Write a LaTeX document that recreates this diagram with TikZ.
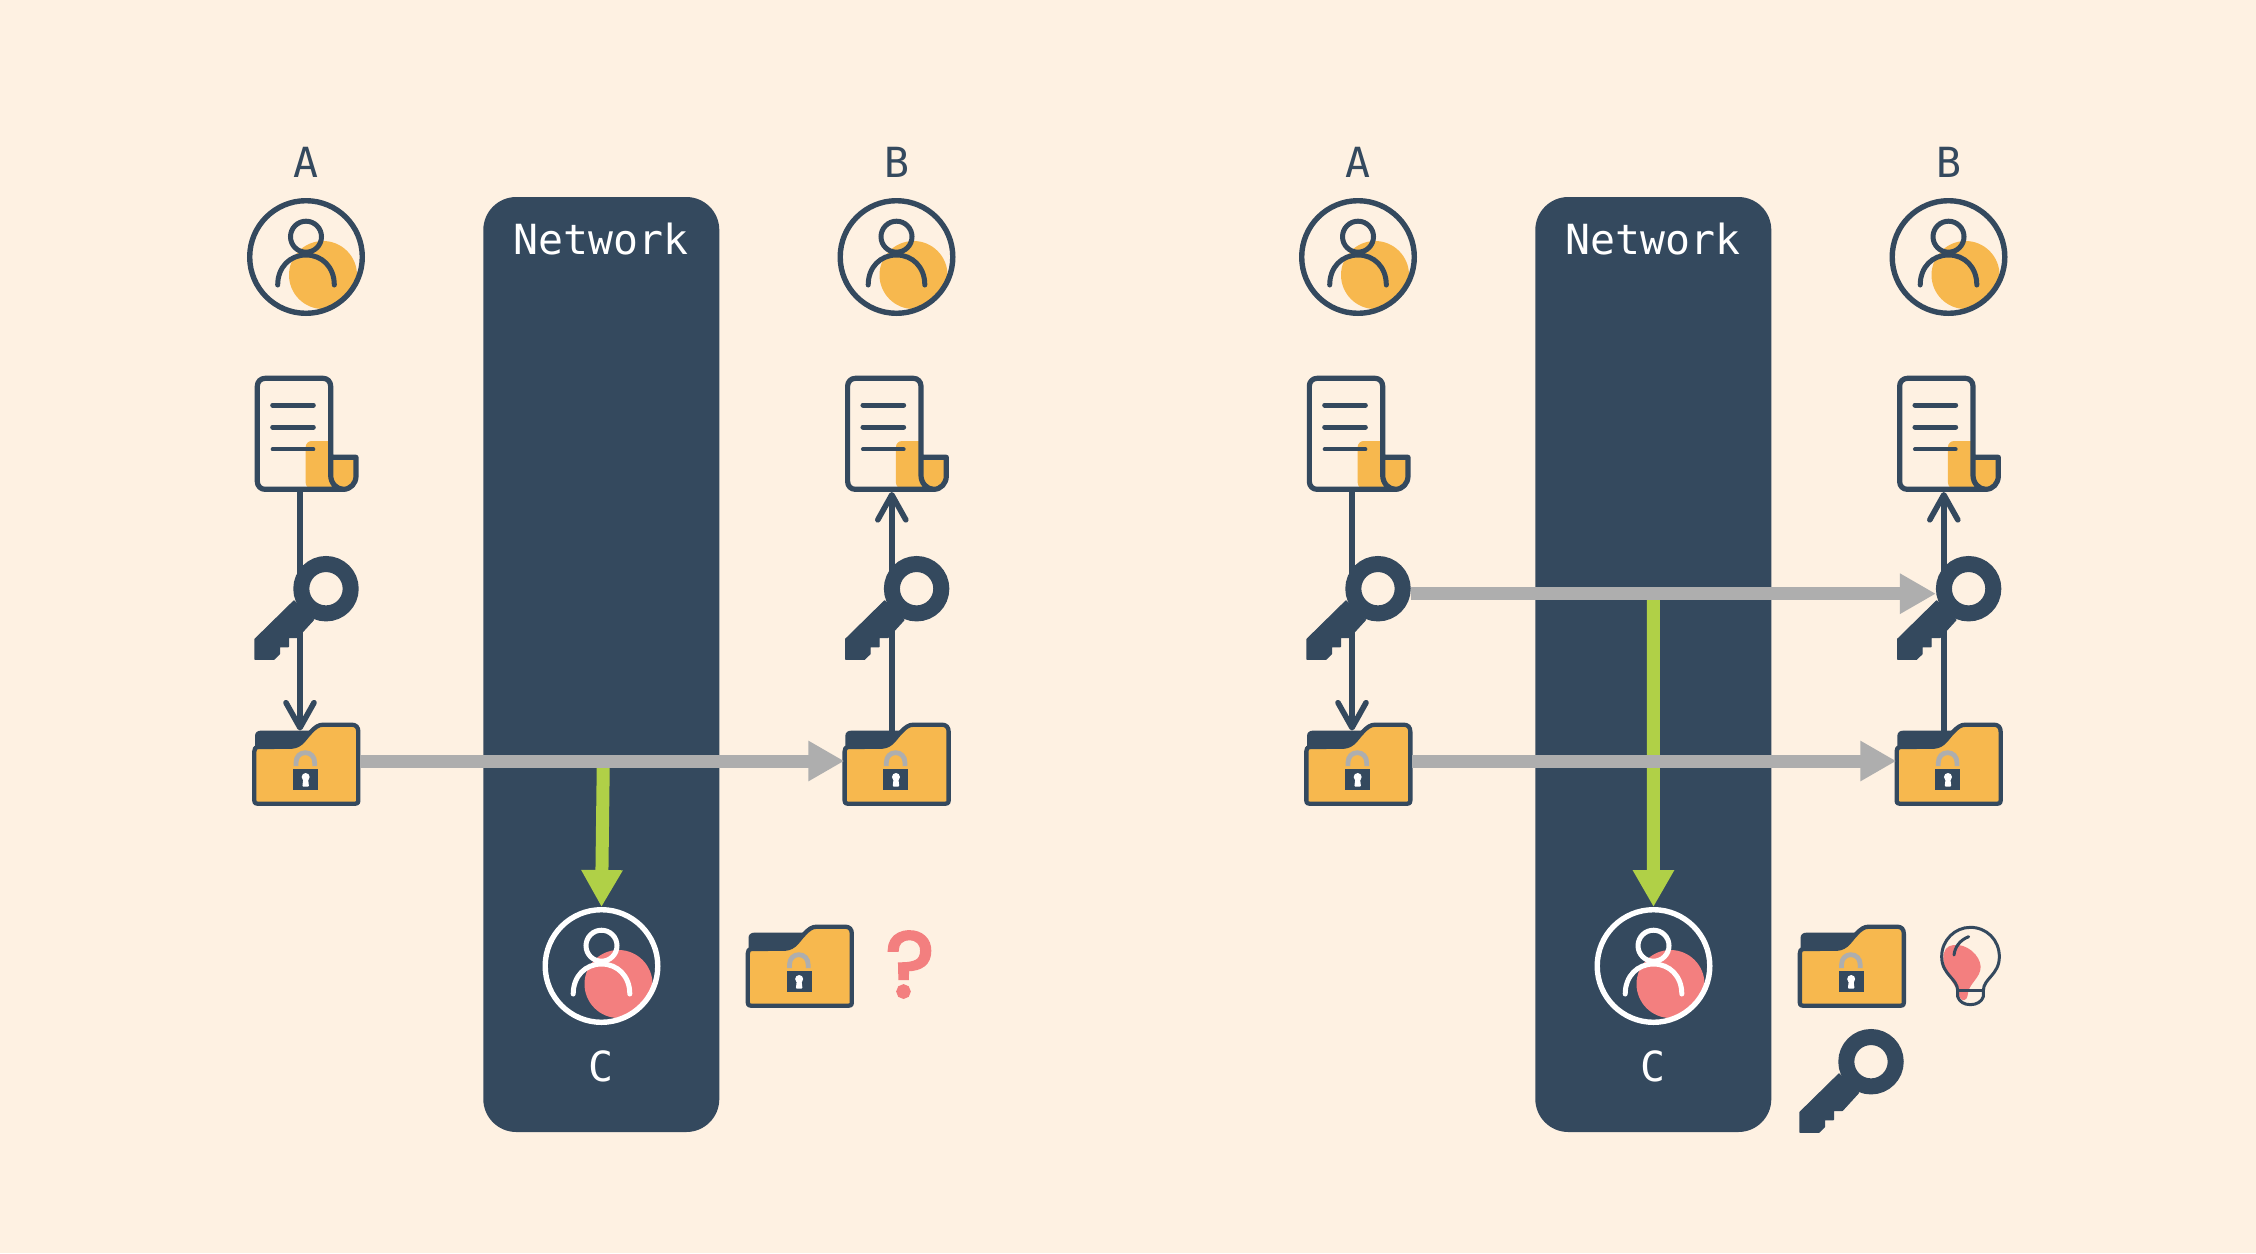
\documentclass[tikz,border=0pt]{standalone}
\usepackage{fontspec}
\usetikzlibrary{arrows.meta}
\newfontfamily\labelfont{DejaVu Sans Mono}
\newfontfamily\qmarkfont[FakeBold=3.5]{Poppins}
\definecolor{bgc}{HTML}{FEF1E2}
\definecolor{dark}{HTML}{34495E}
\definecolor{amber}{HTML}{F7B84E}
\definecolor{greyarrow}{HTML}{AEAEAE}
\definecolor{lime}{HTML}{B0D047}
\definecolor{salmon}{HTML}{F37F7F}
\tikzset{
  every node/.style={inner sep=0pt,outer sep=0pt},
  netbox/.style={fill=dark,rounded corners=33pt,minimum width=236pt,minimum height=935pt},
  lab/.style={font=\labelfont\fontsize{41.5}{48}\selectfont,anchor=base},
  personbox/.style={circle,minimum size=118pt},
  docbox/.style={minimum width=104pt,minimum height=116pt},
  keybox/.style={circle,minimum size=65.4pt},
  folderbox/.style={minimum width=108pt,minimum height=83pt},
  plainarrow/.style={draw=dark,line width=5.6pt,-{Straight Barb[length=25pt,width=28pt,round]}},
  greyflow/.style={draw=greyarrow,line width=13pt,-{Triangle[length=36pt,width=38pt]}},
  limeflow/.style={draw=lime,line width=13pt,-{Triangle[length=37pt,width=39pt]}},
  pics/person/.style args={#1/#2}{code={
    \begin{scope}
      \clip (0,0) circle (56);
      \fill[#2] (17,18) circle (34);
    \end{scope}
    \draw[#1,line width=5.4pt] (0,0) circle (56.3);
    \draw[#1,line width=5pt] (0,-20.3) circle (15.5);
    \draw[#1,line width=5pt,line cap=round] (-28.3,28) .. controls (-28.3,10) and (-16,-2) .. (0,-2)
       .. controls (16,-2) and (28.3,10) .. (28.3,28);
  }},
  pics/doc/.style={code={
    \begin{scope}[x=0.33333pt,y=-0.33333pt]
    \begin{scope}[shift={(-258,-942)}]
      \fill[amber,rounded corners=6pt] (257,1106) -- (257,963) -- (345,963) -- (345,1106) -- cycle;
      \fill[amber] (332,1012) -- (408,1012) -- (408,1068) .. controls (408,1090) and (392,1108) .. (370,1108)
         .. controls (350,1108) and (332,1090) .. (332,1065) -- cycle;
      \fill[bgc] (338,960) rectangle (420,1008);
      \draw[dark,line width=5.2pt,line join=round]
        (370,1108) -- (135,1108) .. controls (122,1108) and (112,1098) .. (112,1085) -- (112,798)
        .. controls (112,785) and (122,775) .. (135,775) -- (310,775)
        .. controls (322,775) and (332,785) .. (332,798) -- (332,1065)
        .. controls (332,1090) and (350,1108) .. (370,1108)
        .. controls (392,1108) and (408,1090) .. (408,1068) -- (408,1012) -- (332,1012);
      \draw[dark,line width=5pt,line cap=round] (158,855) -- (280,855) (158,921) -- (280,921);
      \draw[dark,line width=4pt,line cap=round] (158,988) -- (280,988);
    \end{scope}
    \end{scope}
  }},
  pics/key/.style={code={
    \filldraw[dark,line width=1.2pt,line join=round] (-32,12.2) -- (-71,50.5) -- (-71,70.5) -- (-52,70.5) -- (-46.6,65.2) -- (-46.6,58)
      -- (-37.6,58) -- (-37.6,48.7) -- (-28.6,48.7) -- (-12.6,31.2) -- cycle;
    \draw[dark,line width=16pt] (0,0) circle (24.7);
  }},
  pics/folder/.style={code={
    \begin{scope}[x=0.33333pt,y=-0.33333pt]
    \begin{scope}[shift={(-258,-702)}]
      \fill[dark] (105,655) -- (105,618) .. controls (105,608) and (112,602) .. (122,602) -- (270,602) -- (240,655) -- cycle;
      \draw[dark,fill=amber,line width=4.3pt,line join=round]
        (112,821) .. controls (105,821) and (103,819) .. (103,812) -- (103,664) .. controls (103,655) and (106,651) .. (114,651)
        -- (215,650) .. controls (245,648) and (255,622) .. (272,606)
        .. controls (285,592) and (295,584) .. (310,584) -- (395,584)
        .. controls (408,584) and (415,592) .. (415,605) -- (415,812) .. controls (415,819) and (413,821) .. (406,821) -- cycle;
      \draw[greyarrow,line width=4.8pt] (228,708) -- (228,698) .. controls (228,680) and (240,668) .. (256,668)
        .. controls (272,668) and (284,680) .. (284,698) -- (284,708);
      \fill[dark] (219,717) rectangle (294,780);
      \fill[white] (257,741) circle (12);
      \fill[white,rounded corners=1pt] (250,745) -- (264,745) -- (267,770) -- (247,770) -- cycle;
    \end{scope}
    \end{scope}
  }},
}
\begin{document}
\begin{tikzpicture}[x=1pt,y=-1pt]
\useasboundingbox (0,0) rectangle (2256,1253);
\fill[bgc] (0,0) rectangle (2256,1253);
\foreach \p/\dx in {L/0,R/1052}{
  \begin{scope}[shift={(\dx,0)}]
    \node[netbox] (\p net) at (601.3,664.5) {};
    \node[lab,text=white] (\p nettext) at (601.3,254) {Network};
    \node[lab,text=dark] (\p alabel) at (305.5,177.5) {A};
    \node[lab,text=dark] (\p blabel) at (896.5,177.5) {B};
    \node[lab,text=white] (\p clabel) at (601.3,1081.5) {C};
    \node[personbox] (\p aperson) at (306,257) {};
    \node[personbox] (\p bperson) at (896.5,257) {};
    \node[personbox] (\p cperson) at (601.5,966) {};
    \node[docbox] (\p adoc) at (306,434) {};
    \node[docbox] (\p bdoc) at (896.3,434) {};
    \node[keybox] (\p akey) at (326,588.7) {};
    \node[keybox] (\p bkey) at (916.6,588.7) {};
    \node[folderbox] (\p afolder) at (306,764) {};
    \node[folderbox] (\p bfolder) at (896.3,764) {};
    \node[folderbox] (\p cfolder) at (799.5,966) {};
    \draw[plainarrow] ([xshift=-6pt]\p adoc.south) -- ([xshift=-6pt,yshift=-8pt]\p afolder.north);
    \draw[plainarrow] ([xshift=-4.5pt,yshift=-8pt]\p bfolder.north) -- ([xshift=-4.5pt]\p bdoc.south);
    \pic at (\p aperson) {person={dark/amber}};
    \pic at (\p bperson) {person={dark/amber}};
    \pic at (\p cperson) {person={white/salmon}};
    \pic at (\p adoc) {doc};
    \pic at (\p bdoc) {doc};
    \pic at (\p akey) {key};
    \pic at (\p bkey) {key};
    \pic at (\p afolder) {folder};
    \pic at (\p bfolder) {folder};
    \pic at (\p cfolder) {folder};
  \end{scope}
}
\coordinate (Ltap) at (603.3,761);
\coordinate (Rtap) at (1653.3,593);
\draw[limeflow] (Ltap) -- (Lcperson.north);
\draw[limeflow] (Rtap) -- (Rcperson.north);
\draw[greyflow] ([yshift=3pt]Lafolder.east) -- ([yshift=3pt,xshift=2pt]Lbfolder.west);
\draw[greyflow] ([yshift=3pt]Rafolder.east) -- ([yshift=3pt,xshift=2pt]Rbfolder.west);
\draw[greyflow] ([yshift=-5pt]Rakey.east) -- ([yshift=-5pt]Rbkey.west);
\node[font=\qmarkfont\fontsize{92}{100}\selectfont,text=salmon] (qmark) at (910,964.5) {?};
\node[keybox] (Rckey) at (1871,1061.7) {};
\pic at (Rckey) {key};
\begin{scope}[shift={(1780,900)}]
\begin{scope}[x=0.33333pt,y=-0.33333pt]
  \fill[salmon] (520,135) .. controls (560,130) and (600,165) .. (602,200)
    .. controls (602,235) and (565,250) .. (563,285) .. controls (560,305) and (545,305) .. (538,290)
    .. controls (530,250) and (490,225) .. (490,175) .. controls (490,150) and (500,138) .. (520,135) -- cycle;
  \draw[dark,line width=3pt,line join=round] (533,272)
    .. controls (533,235) and (485,225) .. (485,170) .. controls (485,120) and (525,82) .. (571,82)
    .. controls (620,82) and (658,120) .. (658,170) .. controls (658,225) and (610,235) .. (610,272)
    -- (610,290) .. controls (605,305) and (590,314) .. (571,314)
    .. controls (552,314) and (538,305) .. (533,290) -- cycle;
  \draw[dark,line width=3pt] (533,272) -- (610,272);
  \draw[dark,line width=3pt,line cap=round] (566,110) .. controls (540,120) and (525,140) .. (522,165);
\end{scope}
\end{scope}
\end{tikzpicture}
\end{document}
